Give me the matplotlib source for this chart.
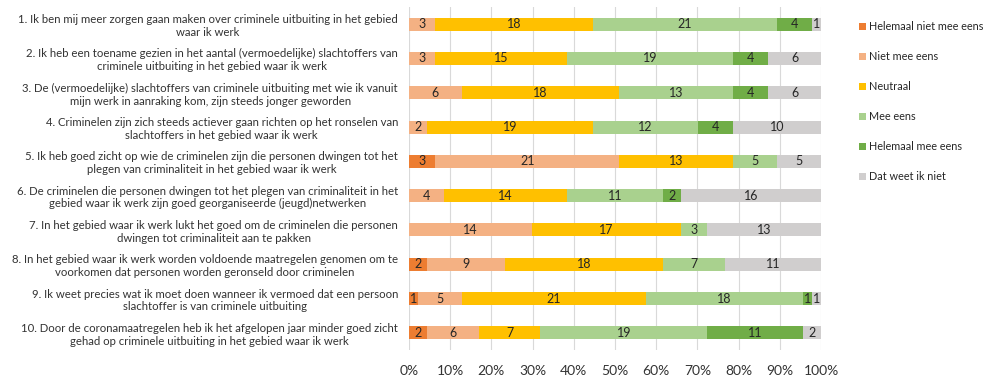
import numpy as np
import matplotlib.pyplot as plt

plt.rcParams['font.family'] = ['Lato', 'DejaVu Sans']

statements = [
    "1. Ik ben mij meer zorgen gaan maken over criminele uitbuiting in het gebied\nwaar ik werk",
    "2. Ik heb een toename gezien in het aantal (vermoedelijke) slachtoffers van\ncriminele uitbuiting in het gebied waar ik werk",
    "3. De (vermoedelijke) slachtoffers van criminele uitbuiting met wie ik vanuit\nmijn werk in aanraking kom, zijn steeds jonger geworden",
    "4. Criminelen zijn zich steeds actiever gaan richten op het ronselen van\nslachtoffers in het gebied waar ik werk",
    "5. Ik heb goed zicht op wie de criminelen zijn die personen dwingen tot het\nplegen van criminaliteit in het gebied waar ik werk",
    "6. De criminelen die personen dwingen tot het plegen van criminaliteit in het\ngebied waar ik werk zijn goed georganiseerde (jeugd)netwerken",
    "7. In het gebied waar ik werk lukt het goed om de criminelen die personen\ndwingen tot criminaliteit aan te pakken",
    "8. In het gebied waar ik werk worden voldoende maatregelen genomen om te\nvoorkomen dat personen worden geronseld door criminelen",
    "9. Ik weet precies wat ik moet doen wanneer ik vermoed dat een persoon\nslachtoffer is van criminele uitbuiting",
    "10. Door de coronamaatregelen heb ik het afgelopen jaar minder goed zicht\ngehad op criminele uitbuiting in het gebied waar ik werk",
]

categories = ["Helemaal niet mee eens", "Niet mee eens", "Neutraal",
              "Mee eens", "Helemaal mee eens", "Dat weet ik niet"]
colors = ["#ED7D31", "#F4B183", "#FFC000", "#A9D18E", "#70AD47", "#D0CECE"]

helemaal_niet = [0, 0, 0, 0, 3, 0, 0, 2, 1, 2]
niet_mee = [3, 3, 6, 2, 21, 4, 14, 9, 5, 6]
neutraal = [18, 15, 18, 19, 13, 14, 17, 18, 21, 7]
mee_eens = [21, 19, 13, 12, 5, 11, 3, 7, 18, 19]
helemaal_mee = [4, 4, 4, 4, 0, 2, 0, 0, 1, 11]
weet_niet = [1, 6, 6, 10, 5, 16, 13, 11, 1, 2]

counts = np.array([helemaal_niet, niet_mee, neutraal, mee_eens, helemaal_mee, weet_niet], dtype=float)
shares = counts / counts.sum(axis=0)

fig = plt.figure(figsize=(9.9, 3.8), dpi=100)
ax = fig.add_axes([409 / 990, 30 / 380, 412 / 990, 343 / 380])

y = np.arange(len(statements))
left = np.zeros(len(statements))
for cat, col, share, cnt in zip(categories, colors, shares, counts):
    bars = ax.barh(y, share, left=left, height=0.38, color=col, label=cat)
    for b, c, s, l in zip(bars, cnt, share, left):
        if c > 0:
            ax.text(l + s / 2, b.get_y() + b.get_height() / 2, f"{int(c)}",
                    ha='center', va='center', fontsize=9, color='#262626')
    left += share

ax.set_xlim(0, 1)
ax.set_ylim(len(statements) - 0.5, -0.5)
ax.set_xticks(np.linspace(0, 1, 11))
ax.set_xticklabels([f"{int(v)}%" for v in np.arange(0, 101, 10)], fontsize=10, color='#333333')
ax.set_yticks(y)
ax.set_yticklabels(statements, fontsize=8.2, color='#333333', multialignment='center')
ax.tick_params(axis='both', length=0)
ax.tick_params(axis='x', pad=11)
ax.tick_params(axis='y', pad=8)
ax.grid(axis='x', color='#d9d9d9', linewidth=0.8)
ax.set_axisbelow(True)
for sp in ax.spines.values():
    sp.set_visible(False)

ax.legend(loc='upper left', bbox_to_anchor=(855 / 990, 1 - 17 / 380),
          bbox_transform=fig.transFigure, frameon=False, fontsize=7.8,
          handlelength=0.65, handleheight=0.65, handletextpad=0.25,
          labelspacing=1.75, labelcolor='#262626', borderaxespad=0)

fig.savefig("out.png", dpi=100)
